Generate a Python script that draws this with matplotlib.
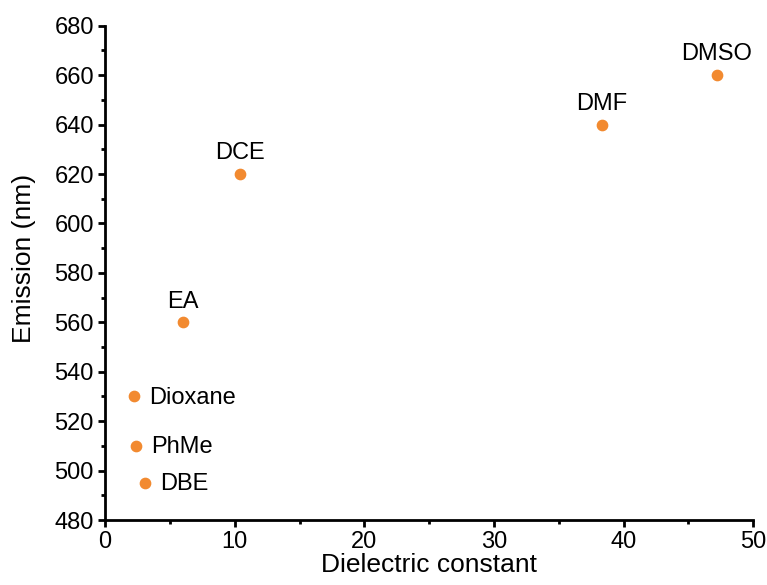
import matplotlib.pyplot as plt
from matplotlib.ticker import MultipleLocator

plt.rcParams["font.family"] = ["Liberation Sans", "DejaVu Sans"]

# Solvent data
solvents = ["Dioxane", "PhMe", "DBE", "EA", "DCE", "DMF", "DMSO"]
dielectric = [2.25, 2.4, 3.1, 6.0, 10.4, 38.3, 47.2]
emission = [530, 510, 495, 560, 620, 640, 660]
label_side = ["right", "right", "right", "top", "top", "top", "top"]

fig = plt.figure(figsize=(7.67, 5.85), dpi=100)
ax = fig.add_axes([0.137, 0.111, 0.845, 0.845])

ax.scatter(dielectric, emission, s=55, color="#F28A30", zorder=3, clip_on=False)

for name, x, y, side in zip(solvents, dielectric, emission, label_side):
    if side == "right":
        ax.annotate(name, (x, y), xytext=(11, -1), textcoords="offset points",
                    ha="left", va="center", fontsize=17)
    else:
        ax.annotate(name, (x, y), xytext=(0, 7), textcoords="offset points",
                    ha="center", va="bottom", fontsize=17)

ax.set_xlim(0, 50)
ax.set_ylim(480, 680)
ax.xaxis.set_major_locator(MultipleLocator(10))
ax.xaxis.set_minor_locator(MultipleLocator(5))
ax.yaxis.set_major_locator(MultipleLocator(20))
ax.yaxis.set_minor_locator(MultipleLocator(10))

ax.spines["top"].set_visible(False)
ax.spines["right"].set_visible(False)
ax.spines["left"].set_linewidth(2)
ax.spines["bottom"].set_linewidth(2)
ax.tick_params(which="major", length=5, width=2, labelsize=17, direction="out", pad=3)
ax.tick_params(which="minor", length=3, width=2, direction="out")

ax.set_xlabel("Dielectric constant", fontsize=19, labelpad=0)
ax.set_ylabel("Emission (nm)", fontsize=19)
ax.yaxis.set_label_coords(-0.106, 0.53)

plt.savefig("out.png", dpi=100)
